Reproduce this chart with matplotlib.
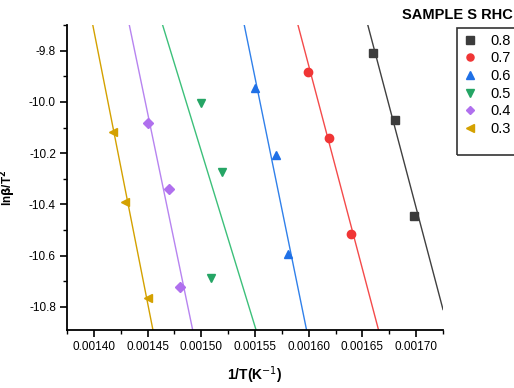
import matplotlib.pyplot as plt
from matplotlib.lines import Line2D
from matplotlib.patches import Rectangle

plt.rcParams['font.family'] = ['Liberation Sans', 'DejaVu Sans']

SAMPLES = ["0.8", "0.7", "0.6", "0.5", "0.4", "0.3"]
COLORS = ["#3c3c3c", "#f03535", "#1f70e6", "#25a565", "#b070ee", "#d4a100"]
LINE_COLORS = ["#404040", "#f44a4a", "#3080ea", "#3cc07a", "#b784f0", "#d4a100"]
MARKERS = ["s", "o", "^", "v", "D", "<"]

# measured points (1/T, ln(beta/T^2))
inv_t = [
    [0.001660, 0.001680, 0.001698],
    [0.001599, 0.001619, 0.001639],
    [0.001550, 0.001570, 0.001581],
    [0.001500, 0.001519, 0.001509],
    [0.001450, 0.001470, 0.001480],
    [0.001418, 0.001429, 0.001450],
]
ln_beta = [
    [-9.808, -10.069, -10.447],
    [-9.882, -10.139, -10.517],
    [-9.944, -10.209, -10.595],
    [-10.003, -10.272, -10.689],
    [-10.081, -10.338, -10.724],
    [-10.117, -10.389, -10.767],
]

# fitted lines, read as endpoints
fit_x = [
    [0.001655, 0.001725],
    [0.001590, 0.001665],
    [0.001540, 0.001598],
    [0.001464, 0.001551],
    [0.001433, 0.001492],
    [0.001399, 0.001455],
]
fit_y = [
    [-9.70, -10.81],
    [-9.70, -10.89],
    [-9.70, -10.89],
    [-9.70, -10.89],
    [-9.70, -10.89],
    [-9.70, -10.89],
]

fig = plt.figure(figsize=(5.14, 3.88), dpi=100)
ax = fig.add_axes([67 / 514, 1 - 330 / 388, (443 - 67) / 514, (330 - 25) / 388])

handles = []
for i in range(len(SAMPLES)):
    ax.plot(fit_x[i], fit_y[i], color=LINE_COLORS[i], lw=1.0)
    ms = 5 if MARKERS[i] == "D" else 6
    h, = ax.plot(inv_t[i], ln_beta[i], linestyle="none", marker=MARKERS[i],
                 color=COLORS[i], markersize=ms)
    handles.append(h)

ax.set_xlim(0.001380, 0.001725)
ax.set_ylim(-10.89, -9.70)
ax.set_xticks([0.00140, 0.00145, 0.00150, 0.00155, 0.00160, 0.00165, 0.00170])
ax.set_xticklabels(["0.00140", "0.00145", "0.00150", "0.00155",
                    "0.00160", "0.00165", "0.00170"])
ax.set_yticks([-9.8, -10.0, -10.2, -10.4, -10.6, -10.8])
ax.set_yticklabels(["-9.8", "-10.0", "-10.2", "-10.4", "-10.6", "-10.8"])
ax.set_xticks([0.001375 + 0.00005 * k for k in range(8)], minor=True)
ax.set_yticks([-9.7, -9.9, -10.1, -10.3, -10.5, -10.7], minor=True)
ax.tick_params(which="major", direction="out", length=5, width=1.2,
               labelsize=8.5, pad=3)
ax.tick_params(which="minor", direction="out", length=3, width=1.0)
ax.spines["top"].set_visible(False)
ax.spines["right"].set_visible(False)
ax.spines["left"].set_linewidth(1.3)
ax.spines["bottom"].set_linewidth(1.3)

ax.set_xlabel("1/T(K$^{-1}$)", fontsize=10, fontweight="bold", labelpad=8)
ax.set_ylabel(r"ln$\mathbf{\beta}$/T$^{\mathbf{2}}$", fontsize=8.5, fontweight="bold")
ax.yaxis.set_label_coords(-0.13, 0.466)

fig.text(402 / 514, 1 - 15 / 388, "SAMPLE S RHC", fontsize=10.5, fontweight="bold",
         va="center", ha="left")

# legend box runs off the right edge, like the source figure
box = Rectangle((457 / 514, 1 - 155 / 388), 80 / 514, 127 / 388,
                transform=fig.transFigure, fill=False, edgecolor="#333333", lw=1.2)
fig.add_artist(box)
leg = fig.legend(handles, SAMPLES, loc="upper left",
                 bbox_to_anchor=(457 / 514, 1 - 28 / 388), borderaxespad=0,
                 frameon=False, fontsize=10.5,
                 handlelength=1.0, handletextpad=0.9, labelspacing=0.25,
                 borderpad=0.4, markerscale=0.85)

fig.savefig("out.png", dpi=100)
